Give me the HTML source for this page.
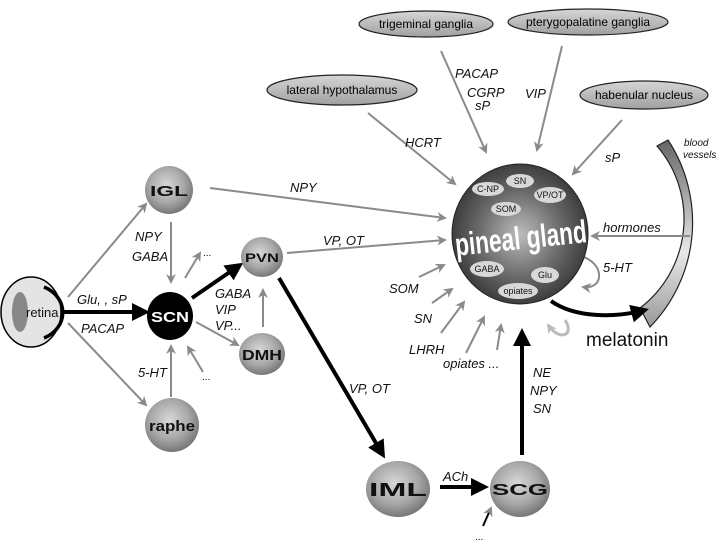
<!DOCTYPE html>
<html><head><meta charset="utf-8"><style>
html,body{margin:0;padding:0;background:#fff;}
svg{display:block;}
text{font-family:"Liberation Sans",Arial,sans-serif;}
.it{font-style:italic;font-size:13px;fill:#111;}
.nd{font-weight:bold;font-size:15px;fill:#111;text-anchor:middle;}
.g{stroke:#8a8a8a;stroke-width:2;fill:none;}
.k{stroke:#000;stroke-width:4;fill:none;}
</style></head><body>
<svg width="720" height="540" viewBox="0 0 720 540" xmlns="http://www.w3.org/2000/svg">
<defs>
<radialGradient id="sph" cx="0.45" cy="0.4" r="0.6">
<stop offset="0" stop-color="#d8d8d8"/><stop offset="0.6" stop-color="#a8a8a8"/><stop offset="1" stop-color="#777"/>
</radialGradient>
<radialGradient id="pin" cx="0.5" cy="0.5" r="0.55">
<stop offset="0" stop-color="#bdbdbd"/><stop offset="0.55" stop-color="#6a6a6a"/><stop offset="1" stop-color="#333"/>
</radialGradient>
<linearGradient id="ell" x1="0" y1="0" x2="0" y2="1">
<stop offset="0" stop-color="#d6d6d6"/><stop offset="1" stop-color="#a0a0a0"/>
</linearGradient>
<linearGradient id="bv" x1="0" y1="0" x2="0" y2="1">
<stop offset="0" stop-color="#666"/><stop offset="0.6" stop-color="#e8e8e8"/><stop offset="1" stop-color="#999"/>
</linearGradient>
<marker id="ag" markerWidth="10" markerHeight="10" refX="8" refY="5" orient="auto" markerUnits="userSpaceOnUse"><path d="M0,0 L10,5 L0,10 L3,5 z" fill="#8a8a8a"/></marker>
<marker id="ak" markerWidth="18" markerHeight="18" refX="14" refY="9" orient="auto" markerUnits="userSpaceOnUse"><path d="M0,0 L18,9 L0,18 z" fill="#000"/></marker>
<marker id="al" markerWidth="10" markerHeight="10" refX="8" refY="5" orient="auto" markerUnits="userSpaceOnUse"><path d="M0,0 L10,5 L0,10 L3,5 z" fill="#bbb"/></marker>
</defs>

<path d="M657,146 L668,140 A150,150 0 0 1 650,327 L640,308 A112,112 0 0 0 657,146 Z" fill="url(#bv)" stroke="#222" stroke-width="1.2"/>
<text x="684" y="146" class="it" style="font-size:10px">blood</text>
<text x="683" y="158" class="it" style="font-size:10px">vessels</text>

<ellipse cx="426" cy="24" rx="67" ry="13" fill="url(#ell)" stroke="#222" stroke-width="1.2"/>
<text x="426" y="28" font-size="12" text-anchor="middle">trigeminal ganglia</text>
<ellipse cx="588" cy="22" rx="80" ry="13" fill="url(#ell)" stroke="#222" stroke-width="1.2"/>
<text x="588" y="26" font-size="12" text-anchor="middle">pterygopalatine ganglia</text>
<ellipse cx="342" cy="90" rx="75" ry="15" fill="url(#ell)" stroke="#222" stroke-width="1.2"/>
<text x="342" y="94" font-size="12" text-anchor="middle">lateral hypothalamus</text>
<ellipse cx="644" cy="95" rx="64" ry="14" fill="url(#ell)" stroke="#222" stroke-width="1.2"/>
<text x="644" y="99" font-size="12" text-anchor="middle">habenular nucleus</text>

<line x1="368" y1="113" x2="455" y2="184" class="g" marker-end="url(#ag)"/>
<line x1="441" y1="51" x2="486" y2="152" class="g" marker-end="url(#ag)"/>
<line x1="562" y1="46" x2="537" y2="150" class="g" marker-end="url(#ag)"/>
<line x1="622" y1="120" x2="573" y2="174" class="g" marker-end="url(#ag)"/>
<line x1="210" y1="188" x2="445" y2="218" class="g" marker-end="url(#ag)"/>
<line x1="287" y1="253" x2="445" y2="240" class="g" marker-end="url(#ag)"/>
<line x1="419" y1="277" x2="444" y2="265" class="g" marker-end="url(#ag)"/>
<line x1="432" y1="303" x2="452" y2="289" class="g" marker-end="url(#ag)"/>
<line x1="441" y1="333" x2="464" y2="302" class="g" marker-end="url(#ag)"/>
<line x1="466" y1="353" x2="484" y2="317" class="g" marker-end="url(#ag)"/>
<line x1="497" y1="350" x2="501" y2="325" class="g" marker-end="url(#ag)"/>
<line x1="690" y1="236" x2="592" y2="236" class="g" marker-end="url(#ag)"/>
<path d="M580,256 C605,262 605,290 583,287" class="g" marker-end="url(#ag)"/>

<text x="405" y="147" class="it">HCRT</text>
<text x="455" y="78" class="it">PACAP</text>
<text x="467" y="97" class="it">CGRP</text>
<text x="475" y="110" class="it">sP</text>
<text x="525" y="98" class="it">VIP</text>
<text x="605" y="162" class="it">sP</text>
<text x="290" y="192" class="it">NPY</text>
<text x="323" y="245" class="it">VP, OT</text>
<text x="389" y="293" class="it">SOM</text>
<text x="414" y="323" class="it">SN</text>
<text x="409" y="354" class="it">LHRH</text>
<text x="443" y="368" class="it">opiates ...</text>
<text x="603" y="232" class="it">hormones</text>
<text x="603" y="272" class="it">5-HT</text>

<ellipse cx="520" cy="234" rx="68" ry="70" fill="url(#pin)" stroke="#222" stroke-width="1"/>
<g font-size="9" text-anchor="middle" fill="#111">
<ellipse cx="520" cy="181" rx="14" ry="7" fill="#d8d8d8"/><text x="520" y="184">SN</text>
<ellipse cx="488" cy="189" rx="16" ry="7" fill="#d8d8d8"/><text x="488" y="192">C-NP</text>
<ellipse cx="550" cy="195" rx="16" ry="8" fill="#d8d8d8"/><text x="550" y="198">VP/OT</text>
<ellipse cx="506" cy="209" rx="15" ry="7" fill="#d8d8d8"/><text x="506" y="212">SOM</text>
<ellipse cx="487" cy="269" rx="17" ry="8" fill="#d8d8d8"/><text x="487" y="272">GABA</text>
<ellipse cx="545" cy="275" rx="14" ry="8" fill="#d8d8d8"/><text x="545" y="278">Glu</text>
<ellipse cx="518" cy="291" rx="20" ry="8" fill="#d8d8d8"/><text x="518" y="294">opiates</text>
</g>
<text x="521" y="249" font-size="32" font-weight="bold" fill="#fff" text-anchor="middle" transform="rotate(-6 521 240)" textLength="132" lengthAdjust="spacingAndGlyphs">pineal gland</text>

<path d="M551,301 C575,318 615,318 645,310" class="k" stroke-width="4" marker-end="url(#ak)"/>
<text x="586" y="346" font-size="19" fill="#111">melatonin</text>
<path d="M565,320 C575,335 560,342 548,325" stroke="#bbb" stroke-width="3" fill="none" marker-end="url(#al)"/>

<line x1="522" y1="455" x2="522" y2="332" class="k" marker-end="url(#ak)"/>
<text x="533" y="377" class="it">NE</text>
<text x="530" y="395" class="it">NPY</text>
<text x="533" y="413" class="it">SN</text>

<line x1="279" y1="278" x2="383" y2="455" class="k" marker-end="url(#ak)"/>
<text x="349" y="393" class="it">VP, OT</text>
<line x1="440" y1="487" x2="485" y2="487" class="k" marker-end="url(#ak)"/>
<text x="443" y="481" class="it">ACh</text>
<line x1="483" y1="526" x2="491" y2="508" stroke="#000" stroke-width="2" marker-end="url(#ag)"/>
<text x="475" y="540" font-size="10">...</text>

<line x1="68" y1="297" x2="146" y2="204" class="g" marker-end="url(#ag)"/>
<line x1="68" y1="323" x2="146" y2="405" class="g" marker-end="url(#ag)"/>
<line x1="62" y1="312" x2="146" y2="312" class="k" marker-end="url(#ak)"/>
<text x="77" y="304" class="it">Glu, , sP</text>
<text x="81" y="333" class="it">PACAP</text>
<line x1="171" y1="222" x2="171" y2="282" class="g" marker-end="url(#ag)"/>
<text x="135" y="241" class="it">NPY</text>
<text x="132" y="261" class="it">GABA</text>
<line x1="185" y1="278" x2="200" y2="253" class="g" marker-end="url(#ag)"/>
<text x="203" y="256" font-size="10">...</text>
<line x1="192" y1="298" x2="240" y2="265" class="k" marker-end="url(#ak)"/>
<line x1="196" y1="322" x2="238" y2="345" class="g" marker-end="url(#ag)"/>
<text x="215" y="298" class="it">GABA</text>
<text x="215" y="314" class="it">VIP</text>
<text x="215" y="330" class="it">VP...</text>
<line x1="263" y1="327" x2="263" y2="290" class="g" marker-end="url(#ag)"/>
<line x1="171" y1="397" x2="171" y2="346" class="g" marker-end="url(#ag)"/>
<text x="138" y="377" class="it">5-HT</text>
<line x1="203" y1="372" x2="188" y2="347" class="g" marker-end="url(#ag)"/>
<text x="202" y="380" font-size="10">...</text>

<ellipse cx="31" cy="312" rx="30" ry="35" fill="#e4e4e4" stroke="#000" stroke-width="1.5"/>
<ellipse cx="20" cy="312" rx="8" ry="20" fill="#888"/>
<path d="M44,287 A32,28 0 0 1 44,338" stroke="#000" stroke-width="3.5" fill="none"/>
<text x="26" y="317" font-size="13" fill="#111">retina</text>

<ellipse cx="169" cy="190" rx="24" ry="24" fill="url(#sph)"/>
<text x="169" y="196" class="nd" textLength="38" lengthAdjust="spacingAndGlyphs">IGL</text>
<ellipse cx="170" cy="316" rx="23" ry="24" fill="#000"/>
<text x="170" y="322" class="nd" style="fill:#fff" textLength="38" lengthAdjust="spacingAndGlyphs">SCN</text>
<ellipse cx="262" cy="257" rx="21" ry="20" fill="url(#sph)"/>
<text x="262" y="262" class="nd" style="font-size:12px" textLength="34" lengthAdjust="spacingAndGlyphs">PVN</text>
<ellipse cx="262" cy="354" rx="23" ry="21" fill="url(#sph)"/>
<text x="262" y="360" class="nd" textLength="40" lengthAdjust="spacingAndGlyphs">DMH</text>
<ellipse cx="172" cy="425" rx="27" ry="27" fill="url(#sph)"/>
<text x="172" y="431" class="nd" textLength="46" lengthAdjust="spacingAndGlyphs">raphe</text>
<ellipse cx="398" cy="489" rx="32" ry="28" fill="url(#sph)"/>
<text x="398" y="496" class="nd" style="font-size:18px" textLength="58" lengthAdjust="spacingAndGlyphs">IML</text>
<ellipse cx="520" cy="489" rx="30" ry="28" fill="url(#sph)"/>
<text x="520" y="495" class="nd" style="font-size:16px" textLength="56" lengthAdjust="spacingAndGlyphs">SCG</text>
</svg>
</body></html>
